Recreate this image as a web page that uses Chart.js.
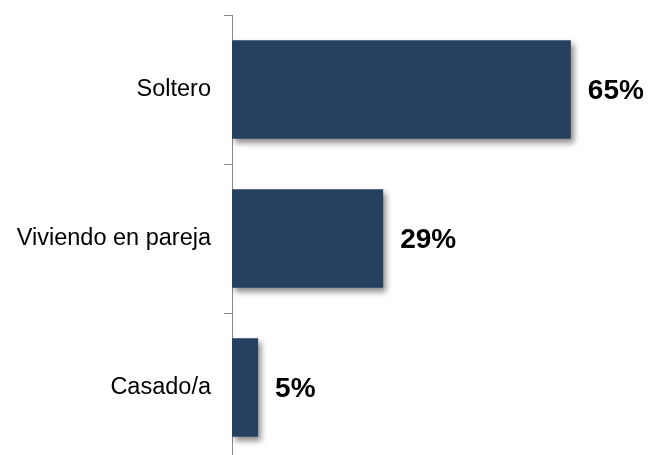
<!DOCTYPE html>
<html>
<head>
<meta charset="utf-8">
<script src="https://cdn.jsdelivr.net/npm/chart.js@4.4.0/dist/chart.umd.min.js"></script>
<style>
  html, body { margin: 0; padding: 0; background: #fff; overflow: hidden; }
</style>
</head>
<body>
<canvas id="estadoChart" width="649" height="470"></canvas>
<script>
// Data
const categories = ["Soltero", "Viviendo en pareja", "Casado/a"];
const values = [65, 29, 5];
const valueLabels = ["65%", "29%", "5%"];

// Shadow under bars + value labels
const barExtras = {
    id: "barExtras",
    beforeDatasetsDraw(chart) {
        const ctx = chart.ctx;
        ctx.save();
        ctx.shadowColor = "rgba(0,0,0,0.45)";
        ctx.shadowBlur = 6;
        ctx.shadowOffsetX = 3;
        ctx.shadowOffsetY = 4;
    },
    afterDatasetsDraw(chart) {
        const ctx = chart.ctx;
        ctx.restore();
        ctx.save();
        ctx.font = "bold 28px 'Liberation Sans', Arial, sans-serif";
        ctx.fillStyle = "#000";
        ctx.textAlign = "left";
        ctx.textBaseline = "middle";
        chart.getDatasetMeta(0).data.forEach((bar, i) => {
            ctx.fillText(valueLabels[i], bar.x + 17, bar.y + 2);
        });
        ctx.restore();
    }
};

const ctx = document.getElementById("estadoChart").getContext("2d");
new Chart(ctx, {
    type: "bar",
    data: {
        labels: categories,
        datasets: [{
            data: values,
            backgroundColor: "#254061",
            borderWidth: 0,
            barPercentage: 0.66,
            categoryPercentage: 1
        }]
    },
    options: {
        indexAxis: "y",
        responsive: false,
        animation: false,
        layout: { padding: { top: 15, bottom: 8, left: 0, right: 0 } },
        plugins: {
            legend: { display: false },
            tooltip: { enabled: false }
        },
        scales: {
            x: {
                display: false,
                min: 0,
                max: 80
            },
            y: {
                afterFit(scale) {
                    scale.width = 232;
                    scale.paddingTop = 0;
                    scale.paddingBottom = 0;
                },
                grid: {
                    drawOnChartArea: false,
                    drawTicks: true,
                    tickLength: 8,
                    color: "#888",
                    offset: true
                },
                border: { display: true, color: "#888", width: 1 },
                ticks: {
                    padding: 13,
                    color: "#000",
                    font: { family: "'Liberation Sans', Arial, sans-serif", size: 23.5 }
                }
            }
        }
    },
    plugins: [barExtras]
});
</script>
</body>
</html>
